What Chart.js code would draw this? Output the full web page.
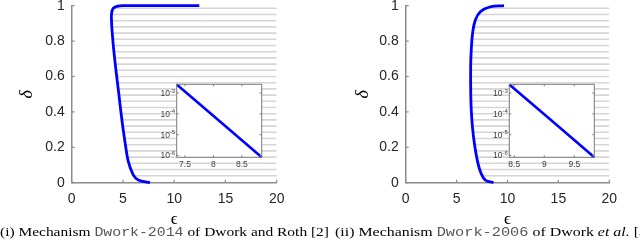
<!DOCTYPE html>
<html><head><meta charset="utf-8">
<script src="https://cdn.jsdelivr.net/npm/chart.js@4/dist/chart.umd.min.js"></script>
<style>
html,body{margin:0;padding:0;background:#fff;}
body{width:640px;height:240px;overflow:hidden;position:relative;}
canvas{position:absolute;}
.cap{position:absolute;white-space:nowrap;font-family:"Liberation Serif","Times New Roman",serif;font-size:13px;line-height:13px;color:#000;transform-origin:0 0;}
.cap .mono{font-family:"Liberation Mono","DejaVu Sans Mono",monospace;color:#555;font-size:12.5px;}
</style></head><body>
<canvas id="mainL" width="320" height="240" style="left:0;top:0"></canvas>
<canvas id="mainR" width="320" height="240" style="left:320px;top:0"></canvas>
<canvas id="insL" width="140" height="100" style="left:130px;top:78px"></canvas>
<canvas id="insR" width="140" height="100" style="left:463px;top:78px"></canvas>
<div class="cap" id="capL" style="left:0;top:225px">(i) Mechanism <span class="mono">Dwork-2014</span> of Dwork and Roth [2]</div>
<div class="cap" id="capR" style="left:335px;top:225px">(ii) Mechanism <span class="mono">Dwork-2006</span> of Dwork <i>et al.</i> [3]</div>
<script>
// ---------- data ----------
const epsTicks = [0, 5, 10, 15, 20];
const deltaTicks = [0, 0.2, 0.4, 0.6, 0.8, 1];

const curveEps2014   = [7.64, 6.50, 6.00, 5.52, 5.25, 5.00, 4.80, 4.60, 4.35, 4.10, 3.95, 3.88, 3.90, 4.05, 4.40, 4.95, 12.45];
const curveDelta2014 = [0.00, 0.015, 0.044, 0.12, 0.21, 0.31, 0.40, 0.50, 0.62, 0.75, 0.85, 0.92, 0.96, 0.985, 0.996, 1.0, 1.0];

const curveEps2006   = [8.62, 7.83, 7.40, 7.06, 6.77, 6.57, 6.45, 6.39, 6.38, 6.44, 6.57, 6.84, 7.33, 8.31, 9.66];
const curveDelta2006 = [0.00, 0.015, 0.053, 0.119, 0.213, 0.307, 0.401, 0.50, 0.655, 0.75, 0.844, 0.919, 0.966, 0.994, 1.0];

const insetEpsTicks2014 = [7.5, 8, 8.5];
const insetEpsTicks2006 = [8.5, 9, 9.5];
const insetDeltaTicks   = [1e-3, 1e-4, 1e-5, 1e-6];
const insetDeltaExps    = ['-3', '-4', '-5', '-6'];

const insetEps2014   = [7.355, 8.10, 8.848];
const insetDelta2014 = [2.6e-3, 4.7e-5, 8.2e-7];
const insetEps2006   = [8.417, 9.125, 9.833];
const insetDelta2006 = [2.6e-3, 4.7e-5, 8.2e-7];

// ---------- styles ----------
const AXIS = '#8c8c8c';
const HATCH = '#d6d6d6';
const BLUE = '#0000ff';
const TICKC = '#262626';
const SANS = '"Liberation Sans", Arial, sans-serif';
const SERIF = '"Liberation Serif", "DejaVu Serif", serif';

const hatchPlugin = {
  id: 'hatch',
  beforeDatasetsDraw(chart) {
    const {ctx, chartArea: a, scales: {x, y}} = chart;
    const pts = chart.data.datasets[0].data;
    ctx.save();
    ctx.beginPath();
    pts.forEach((p, i) => {
      const px = x.getPixelForValue(p.x), py = y.getPixelForValue(p.y);
      if (i) ctx.lineTo(px, py); else ctx.moveTo(px, py);
    });
    ctx.lineTo(x.getPixelForValue(x.max), y.getPixelForValue(1));
    ctx.lineTo(x.getPixelForValue(x.max), y.getPixelForValue(0));
    ctx.closePath();
    ctx.clip();
    ctx.strokeStyle = HATCH;
    ctx.lineWidth = 1.6;
    for (let py = a.top + 2.6; py < a.bottom - 3; py += 6.2) {
      ctx.beginPath(); ctx.moveTo(a.left, py); ctx.lineTo(a.right, py); ctx.stroke();
    }
    ctx.restore();
  }
};

const mainTicksPlugin = {
  id: 'mainTicks',
  afterDraw(chart) {
    const {ctx, chartArea: a, scales: {x, y}} = chart;
    ctx.save();
    ctx.strokeStyle = AXIS; ctx.lineWidth = 1.2;
    x.ticks.forEach(t => {
      const px = x.getPixelForValue(t.value);
      ctx.beginPath(); ctx.moveTo(px, a.bottom); ctx.lineTo(px, a.bottom - 3); ctx.stroke();
    });
    y.ticks.forEach(t => {
      const py = y.getPixelForValue(t.value);
      ctx.beginPath(); ctx.moveTo(a.left, py); ctx.lineTo(a.left + 3, py); ctx.stroke();
    });
    ctx.restore();
  }
};

const insetPlugin = {
  id: 'insetBox',
  beforeDatasetsDraw(chart) {
    const {ctx, chartArea: a} = chart;
    ctx.save(); ctx.fillStyle = '#fff';
    ctx.fillRect(a.left, a.top, a.right - a.left, a.bottom - a.top);
    ctx.restore();
  },
  afterDraw(chart) {
    const {ctx, chartArea: a, scales: {x, y}} = chart;
    ctx.save();
    ctx.strokeStyle = '#7a7a7a'; ctx.lineWidth = 1;
    ctx.strokeRect(a.left, a.top, a.right - a.left, a.bottom - a.top);
    x.ticks.forEach(t => {
      const px = x.getPixelForValue(t.value);
      ctx.beginPath(); ctx.moveTo(px, a.bottom); ctx.lineTo(px, a.bottom - 2);
      ctx.moveTo(px, a.top); ctx.lineTo(px, a.top + 2); ctx.stroke();
    });
    // log tick labels: "10" with a raised exponent
    ctx.fillStyle = '#404040';
    ctx.textBaseline = 'alphabetic';
    y.ticks.forEach((t, i) => {
      const py = y.getPixelForValue(t.value);
      ctx.beginPath(); ctx.moveTo(a.left, py); ctx.lineTo(a.left + 2, py);
      ctx.moveTo(a.right, py); ctx.lineTo(a.right - 2, py); ctx.stroke();
      const exp = insetDeltaExps[i];
      ctx.font = '6px ' + SANS;
      const ew = ctx.measureText(exp).width;
      ctx.textAlign = 'right';
      ctx.fillText(exp, a.left - 1.5, py - 0.5);
      ctx.font = '8.5px ' + SANS;
      ctx.fillText('10', a.left - 1.5 - ew, py + 3);
    });
    ctx.restore();
  }
};

function mainChart(id, xs, ys, area, yTitleX) {
  const W = 320, H = 240;
  const data = xs.map((x, i) => ({x, y: ys[i]}));
  return new Chart(document.getElementById(id), {
    type: 'scatter',
    data: {datasets: [{data, showLine: true, borderColor: BLUE, borderWidth: 2.8,
      pointRadius: 0, tension: 0.4, fill: false, clip: false}]},
    options: {
      responsive: false, animation: false, events: [],
      layout: {padding: {left: 0, top: area.top, right: W - area.right, bottom: 0}},
      plugins: {legend: {display: false}, tooltip: {enabled: false}},
      scales: {
        x: {
          type: 'linear', min: 0, max: 20,
          grid: {display: false, drawTicks: false},
          border: {display: true, color: AXIS, width: 1.5},
          afterBuildTicks: s => { s.ticks = epsTicks.map(v => ({value: v})); },
          afterFit: s => { s.height = H - area.bottom; s.paddingLeft = 0; s.paddingRight = 0; },
          ticks: {padding: 8, color: TICKC, font: {family: SANS, size: 14}, maxRotation: 0, autoSkip: false,
            callback: v => String(v)},
          title: {display: true, text: '\u03F5', color: '#000',
            font: {family: SERIF, size: 17}, padding: {top: 0, bottom: 10}}
        },
        y: {
          type: 'linear', min: 0, max: 1,
          grid: {display: false, drawTicks: false},
          border: {display: true, color: AXIS, width: 1.5},
          afterBuildTicks: s => { s.ticks = deltaTicks.map(v => ({value: v})); },
          afterFit: s => { s.width = area.left; s.paddingTop = 0; s.paddingBottom = 0; },
          ticks: {padding: 7, color: TICKC, font: {family: SANS, size: 14}, autoSkip: false,
            callback: v => String(v)},
          title: {display: true, text: '\u03B4', color: '#000',
            font: {family: SERIF, size: 18, style: 'italic'}, padding: {top: yTitleX - 10.8, bottom: 0}}
        }
      }
    },
    plugins: [hatchPlugin, mainTicksPlugin]
  });
}

function insetChart(id, xs, ys, xTicks, xMin, xMax, area) {
  const W = 140, H = 100;
  const data = xs.map((x, i) => ({x, y: ys[i]}));
  return new Chart(document.getElementById(id), {
    type: 'scatter',
    data: {datasets: [{data, showLine: true, borderColor: BLUE, borderWidth: 2.6,
      pointRadius: 0, tension: 0, fill: false, clip: false}]},
    options: {
      responsive: false, animation: false, events: [],
      layout: {padding: {left: 0, top: area.top, right: W - area.right, bottom: 0}},
      plugins: {legend: {display: false}, tooltip: {enabled: false}},
      scales: {
        x: {
          type: 'linear', min: xMin, max: xMax,
          grid: {display: false, drawTicks: false},
          border: {display: false},
          afterBuildTicks: s => { s.ticks = xTicks.map(v => ({value: v})); },
          afterFit: s => { s.height = H - area.bottom; s.paddingLeft = 0; s.paddingRight = 0; },
          ticks: {padding: 2, color: '#404040', font: {family: SANS, size: 8.5}, maxRotation: 0, autoSkip: false,
            callback: v => String(v)}
        },
        y: {
          type: 'logarithmic', min: Math.pow(10, -6.087), max: Math.pow(10, -2.58),
          grid: {display: false, drawTicks: false},
          border: {display: false},
          afterBuildTicks: s => { s.ticks = insetDeltaTicks.map(v => ({value: v})); },
          afterFit: s => { s.width = area.left; s.paddingTop = 0; s.paddingBottom = 0; },
          ticks: {display: false}
        }
      }
    },
    plugins: [insetPlugin]
  });
}

mainChart('mainL', curveEps2014, curveDelta2014, {left: 71.7, top: 5.7, right: 276.7, bottom: 182.7}, 27.5);
mainChart('mainR', curveEps2006, curveDelta2006, {left: 85.7, top: 5.7, right: 289.3, bottom: 182.7}, 43.3);
insetChart('insL', insetEps2014, insetDelta2014, insetEpsTicks2014, 7.355, 8.848, {left: 46.7, top: 6.3, right: 131.7, bottom: 79.3});
insetChart('insR', insetEps2006, insetDelta2006, insetEpsTicks2006, 8.417, 9.833, {left: 46.3, top: 6.3, right: 131.3, bottom: 79.3});

// stretch captions horizontally to match the reference width
const capL = document.getElementById('capL');
const capR = document.getElementById('capR');
const sx = 329 / capL.getBoundingClientRect().width;
capL.style.transform = 'scaleX(' + sx + ')';
capR.style.transform = 'scaleX(' + (sx * 1.03) + ')';
</script>
</body></html>
